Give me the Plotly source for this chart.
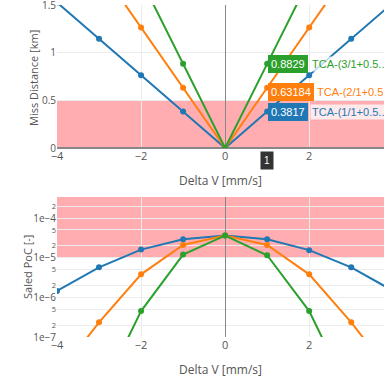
import plotly.graph_objects as go

dv = [-4, -3, -2, -1, 0, 1, 2, 3, 4]
names = ["TCA-(1/1+0.5...", "TCA-(2/1+0.5...", "TCA-(3/1+0.5..."]
colors = ["#1f77b4", "#ff7f0e", "#2ca02c"]

miss_1 = [1.5268, 1.1451, 0.7634, 0.3817, 0.0, 0.3817, 0.7634, 1.1451, 1.5268]
miss_2 = [2.5274, 1.8955, 1.2637, 0.63184, 0.0, 0.63184, 1.2637, 1.8955, 2.5274]
miss_3 = [3.5316, 2.6487, 1.7658, 0.8829, 0.0, 0.8829, 1.7658, 2.6487, 3.5316]

poc_1 = [1.45e-6, 5.7e-6, 1.6e-5, 2.9e-5, 3.6e-5, 2.9e-5, 1.55e-5, 5.7e-6, 1.45e-6]
poc_2 = [1.0e-8, 2.35e-7, 3.8e-6, 2.1e-5, 3.6e-5, 2.1e-5, 3.8e-6, 2.35e-7, 1.0e-8]
poc_3 = [1.0e-10, 3.0e-9, 4.5e-7, 1.2e-5, 3.6e-5, 1.15e-5, 4.5e-7, 3.0e-9, 1.0e-10]

hover_dv = 1
hover_vals = ["0.3817", "0.63184", "0.8829"]

miss_series = [miss_1, miss_2, miss_3]
poc_series = [poc_1, poc_2, poc_3]

miss_limit = 0.5
poc_limit = 1e-5

fig = go.Figure()
for name, col, ys in zip(names, colors, miss_series):
    fig.add_trace(go.Scatter(x=dv, y=ys, name=name, mode="lines+markers",
                             line=dict(color=col, width=2), marker=dict(size=6, color=col),
                             xaxis="x", yaxis="y", showlegend=False))
for name, col, ys in zip(names, colors, poc_series):
    fig.add_trace(go.Scatter(x=dv, y=ys, name=name, mode="lines+markers",
                             line=dict(color=col, width=2), marker=dict(size=6, color=col),
                             xaxis="x2", yaxis="y2", showlegend=False))

font = dict(family="Open Sans, Arial, sans-serif", size=11, color="#555")
yfont = dict(family="Open Sans, Arial, sans-serif", size=10, color="#555")
title_font = dict(family="Open Sans, Arial, sans-serif", size=12, color="#555")
ytitle_font = dict(family="Open Sans, Arial, sans-serif", size=11, color="#555")
axis_common = dict(showgrid=True, gridcolor="#ececec", zeroline=True, zerolinecolor="#888",
                   zerolinewidth=1, tickfont=font, dtick=2, tick0=0, ticks="",
                   automargin=False)

H = 379.0
W = 327.0
fig.update_layout(
    width=384, height=379,
    margin=dict(l=57, r=0, t=0, b=0),
    paper_bgcolor="white", plot_bgcolor="white",
    font=font,
    xaxis=dict(domain=[0, 1], range=[-4, 3.78], anchor="y",
               title=dict(text="Delta V [mm/s]", font=title_font, standoff=14),
               **axis_common),
    yaxis=dict(domain=[1 - 148 / H, 1 - 5 / H], range=[0, 1.5], anchor="x", dtick=0.5,
               showgrid=True, gridcolor="#ececec", zeroline=True, zerolinecolor="#888",
               tickfont=yfont, automargin=False, ticklabeloverflow="allow"),
    xaxis2=dict(domain=[0, 1], range=[-4, 3.78], anchor="y2",
                title=dict(text="Delta V [mm/s]", font=title_font, standoff=14),
                **axis_common),
    yaxis2=dict(domain=[1 - 337 / H, 1 - 197 / H], type="log", range=[-7, -3.47], anchor="x2",
                dtick="D2", exponentformat="e", showgrid=True, gridcolor="#ececec",
                tickfont=yfont, automargin=False, ticklabeloverflow="allow"),
)

# y-axis titles as annotations for exact placement
fig.add_annotation(xref="paper", yref="paper", x=(27 - 57) / W, y=1 - 78 / H,
                   text="Miss Distance [km]", textangle=-90, showarrow=False,
                   font=ytitle_font, xanchor="center", yanchor="middle", xshift=6)
fig.add_annotation(xref="paper", yref="paper", x=(25 - 57) / W, y=1 - 267 / H,
                   text="Saled PoC [-]", textangle=-90, showarrow=False,
                   font=ytitle_font, xanchor="center", yanchor="middle", xshift=2)

fig.add_shape(type="rect", xref="x domain", yref="y", x0=0, x1=1, y0=0, y1=miss_limit,
              fillcolor="rgba(255,60,70,0.42)", line=dict(width=0), layer="below")
fig.add_shape(type="rect", xref="x2 domain", yref="y2 domain", x0=0, x1=1,
              y0=(-5 + 7) / 3.53, y1=1,
              fillcolor="rgba(255,60,70,0.42)", line=dict(width=0), layer="below")

# imitation of the hover labels at dv = 1
ys_hover = [miss_1[5], miss_2[5], miss_3[5]]
yshifts = [0, -4, 0]
name_shift = [43, 48, 43]
for val, nm, col, yv, ysh, nsh in zip(hover_vals, names, colors, ys_hover, yshifts, name_shift):
    fig.add_annotation(x=hover_dv, y=yv, xref="x", yref="y", text=val, showarrow=False,
                       xanchor="left", yanchor="middle", xshift=1, yshift=ysh,
                       bgcolor=col, bordercolor=col, borderpad=2,
                       font=dict(family="Arial", size=11, color="white"))
    fig.add_annotation(x=hover_dv, y=yv, xref="x", yref="y", text=nm, showarrow=False,
                       xanchor="left", yanchor="middle", xshift=nsh, yshift=ysh,
                       bgcolor="rgba(255,255,255,0.75)", borderpad=1,
                       font=dict(family="Arial", size=11, color=col))

fig.add_annotation(x=hover_dv, y=0, xref="x", yref="y", text="1", showarrow=False,
                   yanchor="top", yshift=-3, bgcolor="#333", borderpad=3,
                   font=dict(family="Arial", size=10, color="white"))

fig.write_html("out.html")
